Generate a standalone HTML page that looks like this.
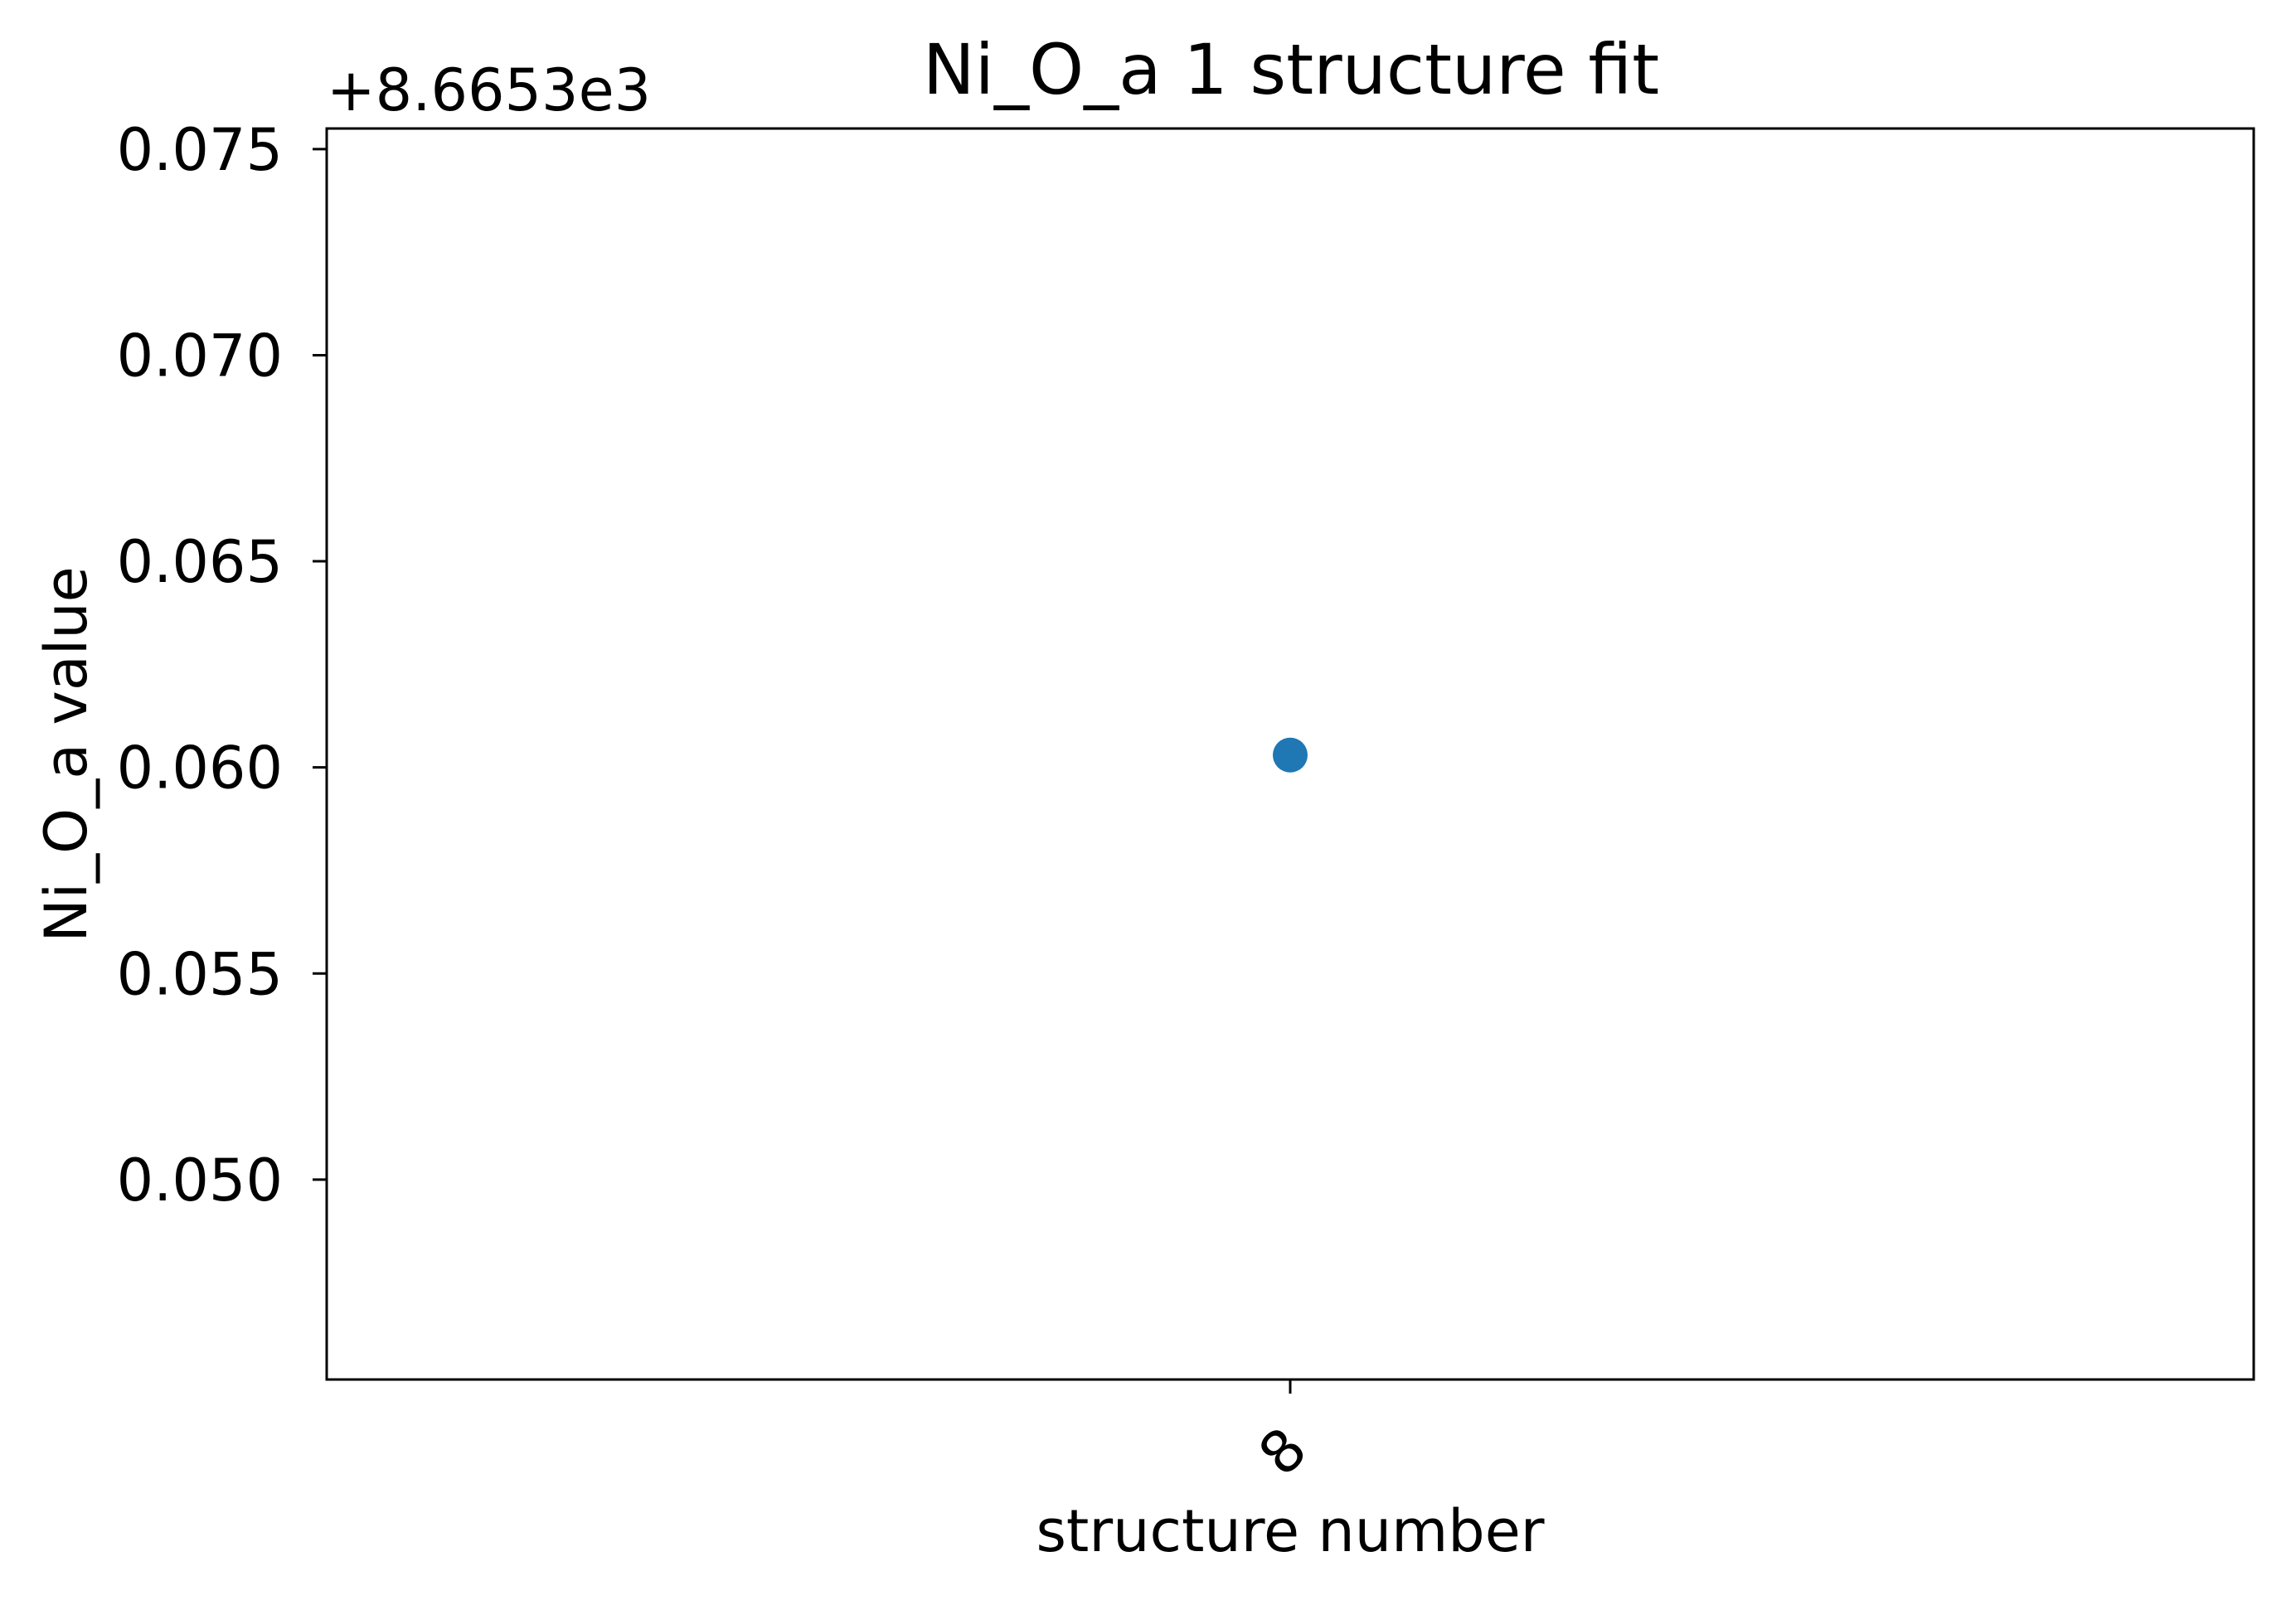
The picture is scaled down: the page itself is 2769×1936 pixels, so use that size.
<!DOCTYPE html>
<html><head><meta charset="utf-8"><style>
html,body{margin:0;padding:0;background:#fff}
svg{display:block;font-family:"DejaVu Sans","Liberation Sans",sans-serif}
</style></head><body>
<svg id="chart" width="2769" height="1936" viewBox="0 0 2769 1936">
<rect width="2769" height="1936" fill="#fff"/>
<text x="1557" y="113" font-size="84" text-anchor="middle">Ni_O_a 1 structure fit</text>
<text x="394" y="133" font-size="70">+8.6653e3</text>
<text transform="translate(104,910) rotate(-90)" font-size="70" text-anchor="middle">Ni_O_a value</text>
<text x="1556" y="1871" font-size="70" text-anchor="middle">structure number</text>
<g id="yticks"></g><g id="xticks"></g><g id="marks"></g>
<rect x="394" y="155" width="2324" height="1509" fill="none" stroke="#000" stroke-width="3"/>
</svg>
<script>
const categories = ["8"];
const values = [0.0603];
const yTicks = [0.050, 0.055, 0.060, 0.065, 0.070, 0.075];
const yTickLabels = ["0.050","0.055","0.060","0.065","0.070","0.075"];
const NS="http://www.w3.org/2000/svg";
const L=394,R=2718,T=155,B=1664,yMin=0.04515,yMax=0.0755;
function yScale(v){return B-(v-yMin)/(yMax-yMin)*(B-T);}
function xScale(i){return L+(i+0.5)/categories.length*(R-L);}
const yg=document.getElementById('yticks');
yTicks.forEach((t,i)=>{
  const y=yScale(t);
  const ln=document.createElementNS(NS,'line');
  ln.setAttribute('x1',L-17);ln.setAttribute('x2',L);ln.setAttribute('y1',y);ln.setAttribute('y2',y);
  ln.setAttribute('stroke','#000');ln.setAttribute('stroke-width','3');
  
  
  yg.appendChild(ln);
  const tx=document.createElementNS(NS,'text');
  tx.setAttribute('x',L-53);tx.setAttribute('y',y+25);tx.setAttribute('font-size','70');tx.setAttribute('text-anchor','end');
  tx.textContent=yTickLabels[i];
  
  
  yg.appendChild(tx);
});
const xg=document.getElementById('xticks');
categories.forEach((c,i)=>{
  const x=xScale(i);
  const ln=document.createElementNS(NS,'line');
  ln.setAttribute('x1',x);ln.setAttribute('x2',x);ln.setAttribute('y1',B);ln.setAttribute('y2',B+17);
  ln.setAttribute('stroke','#000');ln.setAttribute('stroke-width','3');
  
  
  xg.appendChild(ln);
  const tx=document.createElementNS(NS,'text');
  tx.setAttribute('transform','translate('+(x+8)+','+(B+104)+') rotate(-45)');
  tx.setAttribute('font-size','70');tx.setAttribute('text-anchor','middle');
  tx.textContent=c;
  
  
  xg.appendChild(tx);
});
const mg=document.getElementById('marks');
values.forEach((v,i)=>{
  const c=document.createElementNS(NS,'circle');
  c.setAttribute('cx',xScale(i));c.setAttribute('cy',yScale(v));c.setAttribute('r','21');c.setAttribute('fill','#1f77b4');
  
  
  mg.appendChild(c);
});
</script>
</body></html>
